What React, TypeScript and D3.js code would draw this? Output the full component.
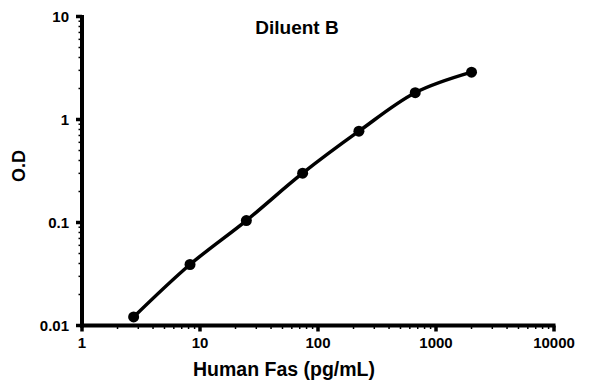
import React, { useEffect, useRef } from "react";
import * as d3 from "d3";

// standard curve, 3-fold dilutions
const concentrations = [2.74, 8.23, 24.7, 74.1, 222.2, 666.7, 2000];
const odValues = [0.0121, 0.0391, 0.1045, 0.301, 0.77, 1.82, 2.88];
const xTicks = [1, 10, 100, 1000, 10000];
const yTicks = [0.01, 0.1, 1, 10];

const App = () => {
  const ref = useRef<SVGSVGElement>(null);

  useEffect(() => {
    const width = 596;
    const height = 384;
    const left = 82;
    const right = 554;
    const top = 16.5;
    const bottom = 325.5;

    const svg = d3.select(ref.current);
    svg.selectAll("*").remove();
    svg.attr("width", width).attr("height", height);

    const x = d3.scaleLog().domain([1, 10000]).range([left, right]);
    const y = d3.scaleLog().domain([0.01, 10]).range([bottom, top]);

    const font = "Arial, 'Liberation Sans', sans-serif";

    // minor ticks
    const minorX: number[] = [];
    const minorY: number[] = [];
    for (let d = 1; d < 10000; d *= 10) {
      for (let k = 2; k < 10; k++) minorX.push(d * k);
    }
    for (let d = 0.01; d < 9; d *= 10) {
      for (let k = 2; k < 10; k++) minorY.push(d * k);
    }

    const g = svg.append("g");

    g.selectAll("line.mx")
      .data(minorX)
      .join("line")
      .attr("x1", (d) => x(d))
      .attr("x2", (d) => x(d))
      .attr("y1", bottom)
      .attr("y2", bottom + 3.5)
      .attr("stroke", "#000")
      .attr("stroke-width", 1.5);

    g.selectAll("line.my")
      .data(minorY)
      .join("line")
      .attr("x1", left - 3.5)
      .attr("x2", left)
      .attr("y1", (d) => y(d))
      .attr("y2", (d) => y(d))
      .attr("stroke", "#000")
      .attr("stroke-width", 1.5);

    // major ticks
    g.selectAll("line.tx")
      .data(xTicks)
      .join("line")
      .attr("x1", (d) => x(d))
      .attr("x2", (d) => x(d))
      .attr("y1", bottom)
      .attr("y2", bottom + 6)
      .attr("stroke", "#000")
      .attr("stroke-width", 3.5);

    g.selectAll("line.ty")
      .data(yTicks)
      .join("line")
      .attr("x1", left - 6)
      .attr("x2", left)
      .attr("y1", (d) => y(d))
      .attr("y2", (d) => y(d))
      .attr("stroke", "#000")
      .attr("stroke-width", 3.5);

    // axis lines
    g.append("line")
      .attr("x1", left)
      .attr("x2", left)
      .attr("y1", top - 1.5)
      .attr("y2", bottom + 2)
      .attr("stroke", "#000")
      .attr("stroke-width", 4);
    g.append("line")
      .attr("x1", left - 2)
      .attr("x2", right + 1.5)
      .attr("y1", bottom)
      .attr("y2", bottom)
      .attr("stroke", "#000")
      .attr("stroke-width", 4);

    // tick labels
    g.selectAll("text.xl")
      .data(xTicks)
      .join("text")
      .attr("x", (d) => x(d))
      .attr("y", 348)
      .attr("text-anchor", "middle")
      .attr("font-family", font)
      .attr("font-weight", "bold")
      .attr("font-size", 15)
      .text((d) => String(d));

    g.selectAll("text.yl")
      .data(yTicks)
      .join("text")
      .attr("x", 69)
      .attr("y", (d) => y(d) + 5)
      .attr("text-anchor", "end")
      .attr("font-family", font)
      .attr("font-weight", "bold")
      .attr("font-size", 15)
      .text((d) => String(d));

    // titles
    svg.append("text")
      .attr("x", 297)
      .attr("y", 34)
      .attr("text-anchor", "middle")
      .attr("font-family", font)
      .attr("font-weight", "bold")
      .attr("font-size", 19)
      .text("Diluent B");

    svg.append("text")
      .attr("x", 284)
      .attr("y", 376)
      .attr("text-anchor", "middle")
      .attr("font-family", font)
      .attr("font-weight", "bold")
      .attr("font-size", 19.5)
      .text("Human Fas (pg/mL)");

    svg.append("text")
      .attr("transform", "translate(25,166) rotate(-90)")
      .attr("text-anchor", "middle")
      .attr("font-family", font)
      .attr("font-weight", "bold")
      .attr("font-size", 18)
      .text("O.D");

    // curve
    const pts = concentrations.map((c, i) => [x(c), y(odValues[i])] as [number, number]);
    const line = d3.line().curve(d3.curveCatmullRom.alpha(0.5));

    svg.append("path")
      .attr("d", line(pts))
      .attr("fill", "none")
      .attr("stroke", "#000")
      .attr("stroke-width", 3.5);

    svg.append("g")
      .selectAll("circle")
      .data(pts)
      .join("circle")
      .attr("cx", (d) => d[0])
      .attr("cy", (d) => d[1])
      .attr("r", 5.5)
      .attr("fill", "#000");
  }, []);

  return <svg ref={ref} style={{ display: "block", position: "absolute", left: 0, top: 0 }} />;
};

export default App;
